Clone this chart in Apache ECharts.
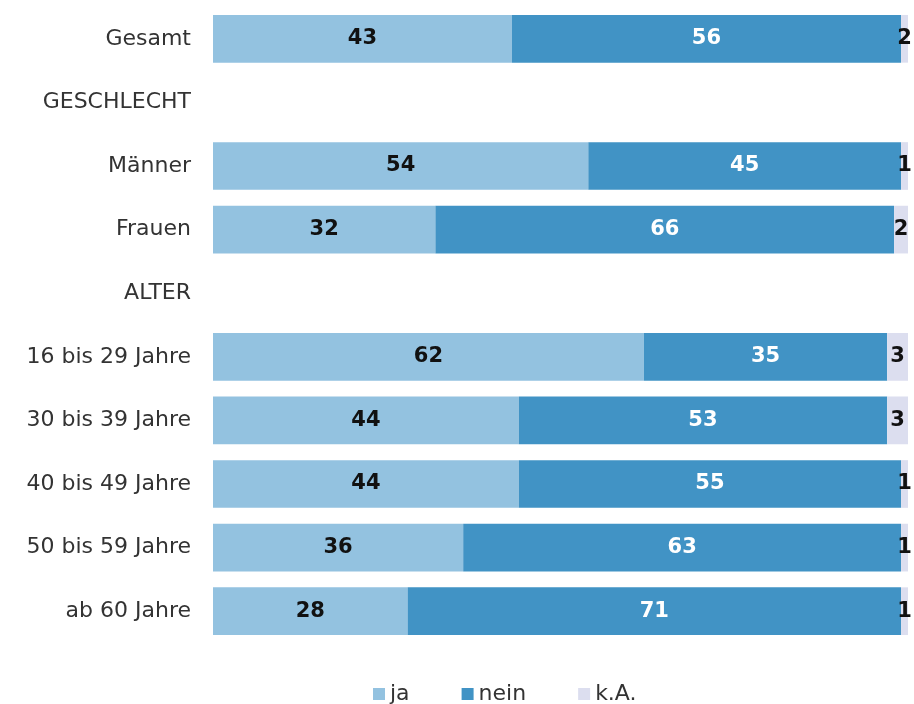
<!DOCTYPE html>
<html>
<head>
<meta charset="utf-8">
<script src="https://cdn.jsdelivr.net/npm/echarts@6/dist/echarts.min.js"></script>
<style>
  html, body { margin: 0; padding: 0; background: #ffffff; }
  #chart { width: 914px; height: 704px; }
</style>
</head>
<body>
<div id="chart"></div>
<script>
// Row labels; group headings are rows without bars
const categories = [
  'Gesamt', 'GESCHLECHT', 'Männer', 'Frauen', 'ALTER',
  '16 bis 29 Jahre', '30 bis 39 Jahre', '40 bis 49 Jahre', '50 bis 59 Jahre', 'ab 60 Jahre'
];
const seriesNames = ['ja', 'nein', 'k.A.'];
const jaValues   = [43, null, 54, 32, null, 62, 44, 44, 36, 28];
const neinValues = [56, null, 45, 66, null, 35, 53, 55, 63, 71];
const kaValues   = [2,  null, 1,  2,  null, 3,  3,  1,  1,  1];

const colors = ['#93c2e0', '#4193c5', '#dcdeef'];
const labelColors = ['#111111', '#ffffff', '#111111'];
const fontFamily = 'DejaVu Sans, sans-serif';

const chart = echarts.init(document.getElementById('chart'), null, { renderer: 'canvas' });

function makeSeries(name, data, idx) {
  return {
    name: name,
    type: 'bar',
    stack: 'total',
    data: data,
    barWidth: '75%',
    itemStyle: { color: colors[idx] },
    emphasis: { disabled: true },
    label: {
      show: true,
      position: 'inside',
      color: labelColors[idx],
      fontFamily: fontFamily,
      fontWeight: 'bold',
      fontSize: 21,
      formatter: p => (p.value == null ? '' : p.value)
    }
  };
}

chart.setOption({
  animation: false,
  textStyle: { fontFamily: fontFamily },
  grid: { left: 213, right: 6, top: 7, bottom: 61, containLabel: false },
  legend: {
    top: 678,
    left: 368,
    itemWidth: 12,
    itemHeight: 12,
    itemGap: 52,
    icon: 'rect',
    textStyle: { fontSize: 22, color: '#333333', fontFamily: fontFamily },
    data: seriesNames
  },
  xAxis: {
    type: 'value',
    min: 0,
    max: 100,
    show: false
  },
  yAxis: {
    type: 'category',
    inverse: true,
    data: categories,
    axisLine: { show: false },
    axisTick: { show: false },
    axisLabel: {
      margin: 22,
      fontSize: 22,
      color: '#333333',
      fontFamily: fontFamily
    }
  },
  series: [
    makeSeries(seriesNames[0], jaValues, 0),
    makeSeries(seriesNames[1], neinValues, 1),
    makeSeries(seriesNames[2], kaValues, 2)
  ]
});
</script>
</body>
</html>
